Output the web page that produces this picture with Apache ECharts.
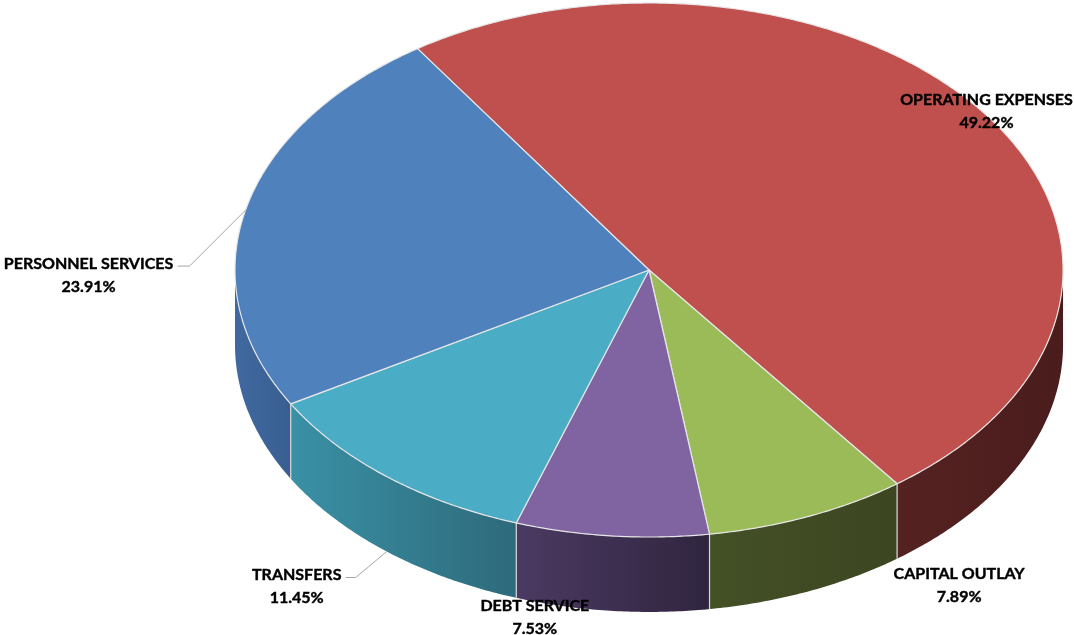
<!DOCTYPE html>
<html>
<head>
<meta charset="utf-8">
<title>Expenditures by Category</title>
<script src="https://cdn.jsdelivr.net/npm/echarts@6/dist/echarts.min.js"></script>
<style>
  html, body { margin: 0; padding: 0; background: #ffffff; }
  #chart { width: 1074px; height: 635px; }
</style>
</head>
<body>
<div id="chart"></div>
<script>
// Budget shares by category (percent of total)
const categories = ['OPERATING EXPENSES', 'CAPITAL OUTLAY', 'DEBT SERVICE', 'TRANSFERS', 'PERSONNEL SERVICES'];
const shares = [49.22, 7.89, 7.53, 11.45, 23.91];

// Face colours and side-wall gradients (left -> right)
const topColors = ['#C0504D', '#9BBB59', '#8064A2', '#4BACC6', '#4F81BD'];
const sideColors = [
  ['#552221', '#4A1C1C'],
  ['#445026', '#3C4621'],
  ['#4B3A62', '#30253F'],
  ['#3A90A5', '#2E6A7B'],
  ['#4069A0', '#395F90']
];

// Label placement relative to the slice's rim midpoint
const labelLayout = [
  { dx: 0, dy: -4 },
  { dx: 151, dy: -6 },
  { dx: -77, dy: 6 },
  { dx: -90, dy: 35, elbow: [-31, 26], end: [-41, 26] },
  { dx: -157, dy: 65, elbow: [-56, 56], end: [-68, 56] }
];

const START_ANGLE = 124;           // degrees, first slice edge
const total = shares.reduce((a, b) => a + b, 0);

function renderSlice(params, api) {
  const i = params.dataIndex;
  const value = api.value(0);
  const W = api.getWidth(), H = api.getHeight();
  const cx = W * 0.6043, cy = H * 0.4252;
  const rx = W * 0.3855, ry = H * 0.4205;
  const depth = H * 0.118;

  let cum = 0;
  for (let k = 0; k < i; k++) cum += shares[k];
  const a0 = START_ANGLE - 360 * cum / total;
  const a1 = a0 - 360 * value / total;

  const pt = (deg, dz) => {
    const r = deg * Math.PI / 180;
    return [cx + rx * Math.cos(r), cy - ry * Math.sin(r) + (dz || 0)];
  };
  const arc = (from, to, dz) => {
    const pts = [];
    const n = Math.max(2, Math.ceil(Math.abs(to - from) / 0.5));
    for (let s = 0; s <= n; s++) pts.push(pt(from + (to - from) * s / n, dz));
    return pts;
  };

  const children = [];

  // side wall: only the front half (lower half of the ellipse) is visible
  for (let k = -1; k <= 1; k++) {
    const lo = Math.max(a1, -180 + 360 * k);
    const hi = Math.min(a0, 360 * k);
    if (hi > lo) {
      const pts = arc(hi, lo, 0).concat(arc(lo, hi, depth));
      children.push({
        type: 'polygon',
        shape: { points: pts },
        style: {
          fill: {
            type: 'linear', x: 0, y: 0, x2: 1, y2: 0,
            colorStops: [
              { offset: 0, color: sideColors[i][0] },
              { offset: 1, color: sideColors[i][1] }
            ]
          },
          stroke: null
        }
      });
    }
  }

  // vertical edge at the slice's starting boundary when it faces the front
  const sa = ((a0 % 360) + 360) % 360;
  if (sa > 180 && sa < 360) {
    const p = pt(a0, 0), q = pt(a0, depth);
    children.push({
      type: 'line',
      shape: { x1: p[0], y1: p[1], x2: q[0], y2: q[1] },
      style: { stroke: '#D9D9D9', lineWidth: 1.2 }
    });
  }

  // top face
  children.push({
    type: 'polygon',
    shape: { points: [[cx, cy]].concat(arc(a0, a1, 0)) },
    style: { fill: topColors[i], stroke: '#E6E6E6', lineWidth: 1.2, lineJoin: 'round' }
  });

  // label anchored at the rim midpoint
  const mid = (a0 + a1) / 2;
  const ms = Math.sin(mid * Math.PI / 180);
  const anchor = pt(mid, ms < 0 ? depth : 0);
  const lay = labelLayout[i];
  if (lay.elbow) {
    children.push({
      type: 'polyline',
      shape: {
        points: [
          anchor,
          [anchor[0] + lay.elbow[0], anchor[1] + lay.elbow[1]],
          [anchor[0] + lay.end[0], anchor[1] + lay.end[1]]
        ]
      },
      style: { stroke: '#A6A6A6', lineWidth: 1, fill: null }
    });
  }
  children.push({
    type: 'text',
    x: anchor[0] + lay.dx,
    y: anchor[1] + lay.dy,
    style: {
      text: categories[i] + '\n' + value.toFixed(2) + '%',
      fill: '#000000',
      font: 'bold 16px Lato, "Open Sans", sans-serif',
      lineHeight: 23,
      align: 'center',
      verticalAlign: 'middle',
      stroke: '#000000',
      lineWidth: 0.4
    }
  });

  return { type: 'group', children: children };
}

const chart = echarts.init(document.getElementById('chart'), null, { renderer: 'canvas' });
chart.setOption({
  animation: false,
  backgroundColor: '#ffffff',
  series: [{
    type: 'custom',
    coordinateSystem: 'none',
    renderItem: renderSlice,
    data: shares.map((v, i) => ({ name: categories[i], value: [v] }))
  }]
});
</script>
</body>
</html>
